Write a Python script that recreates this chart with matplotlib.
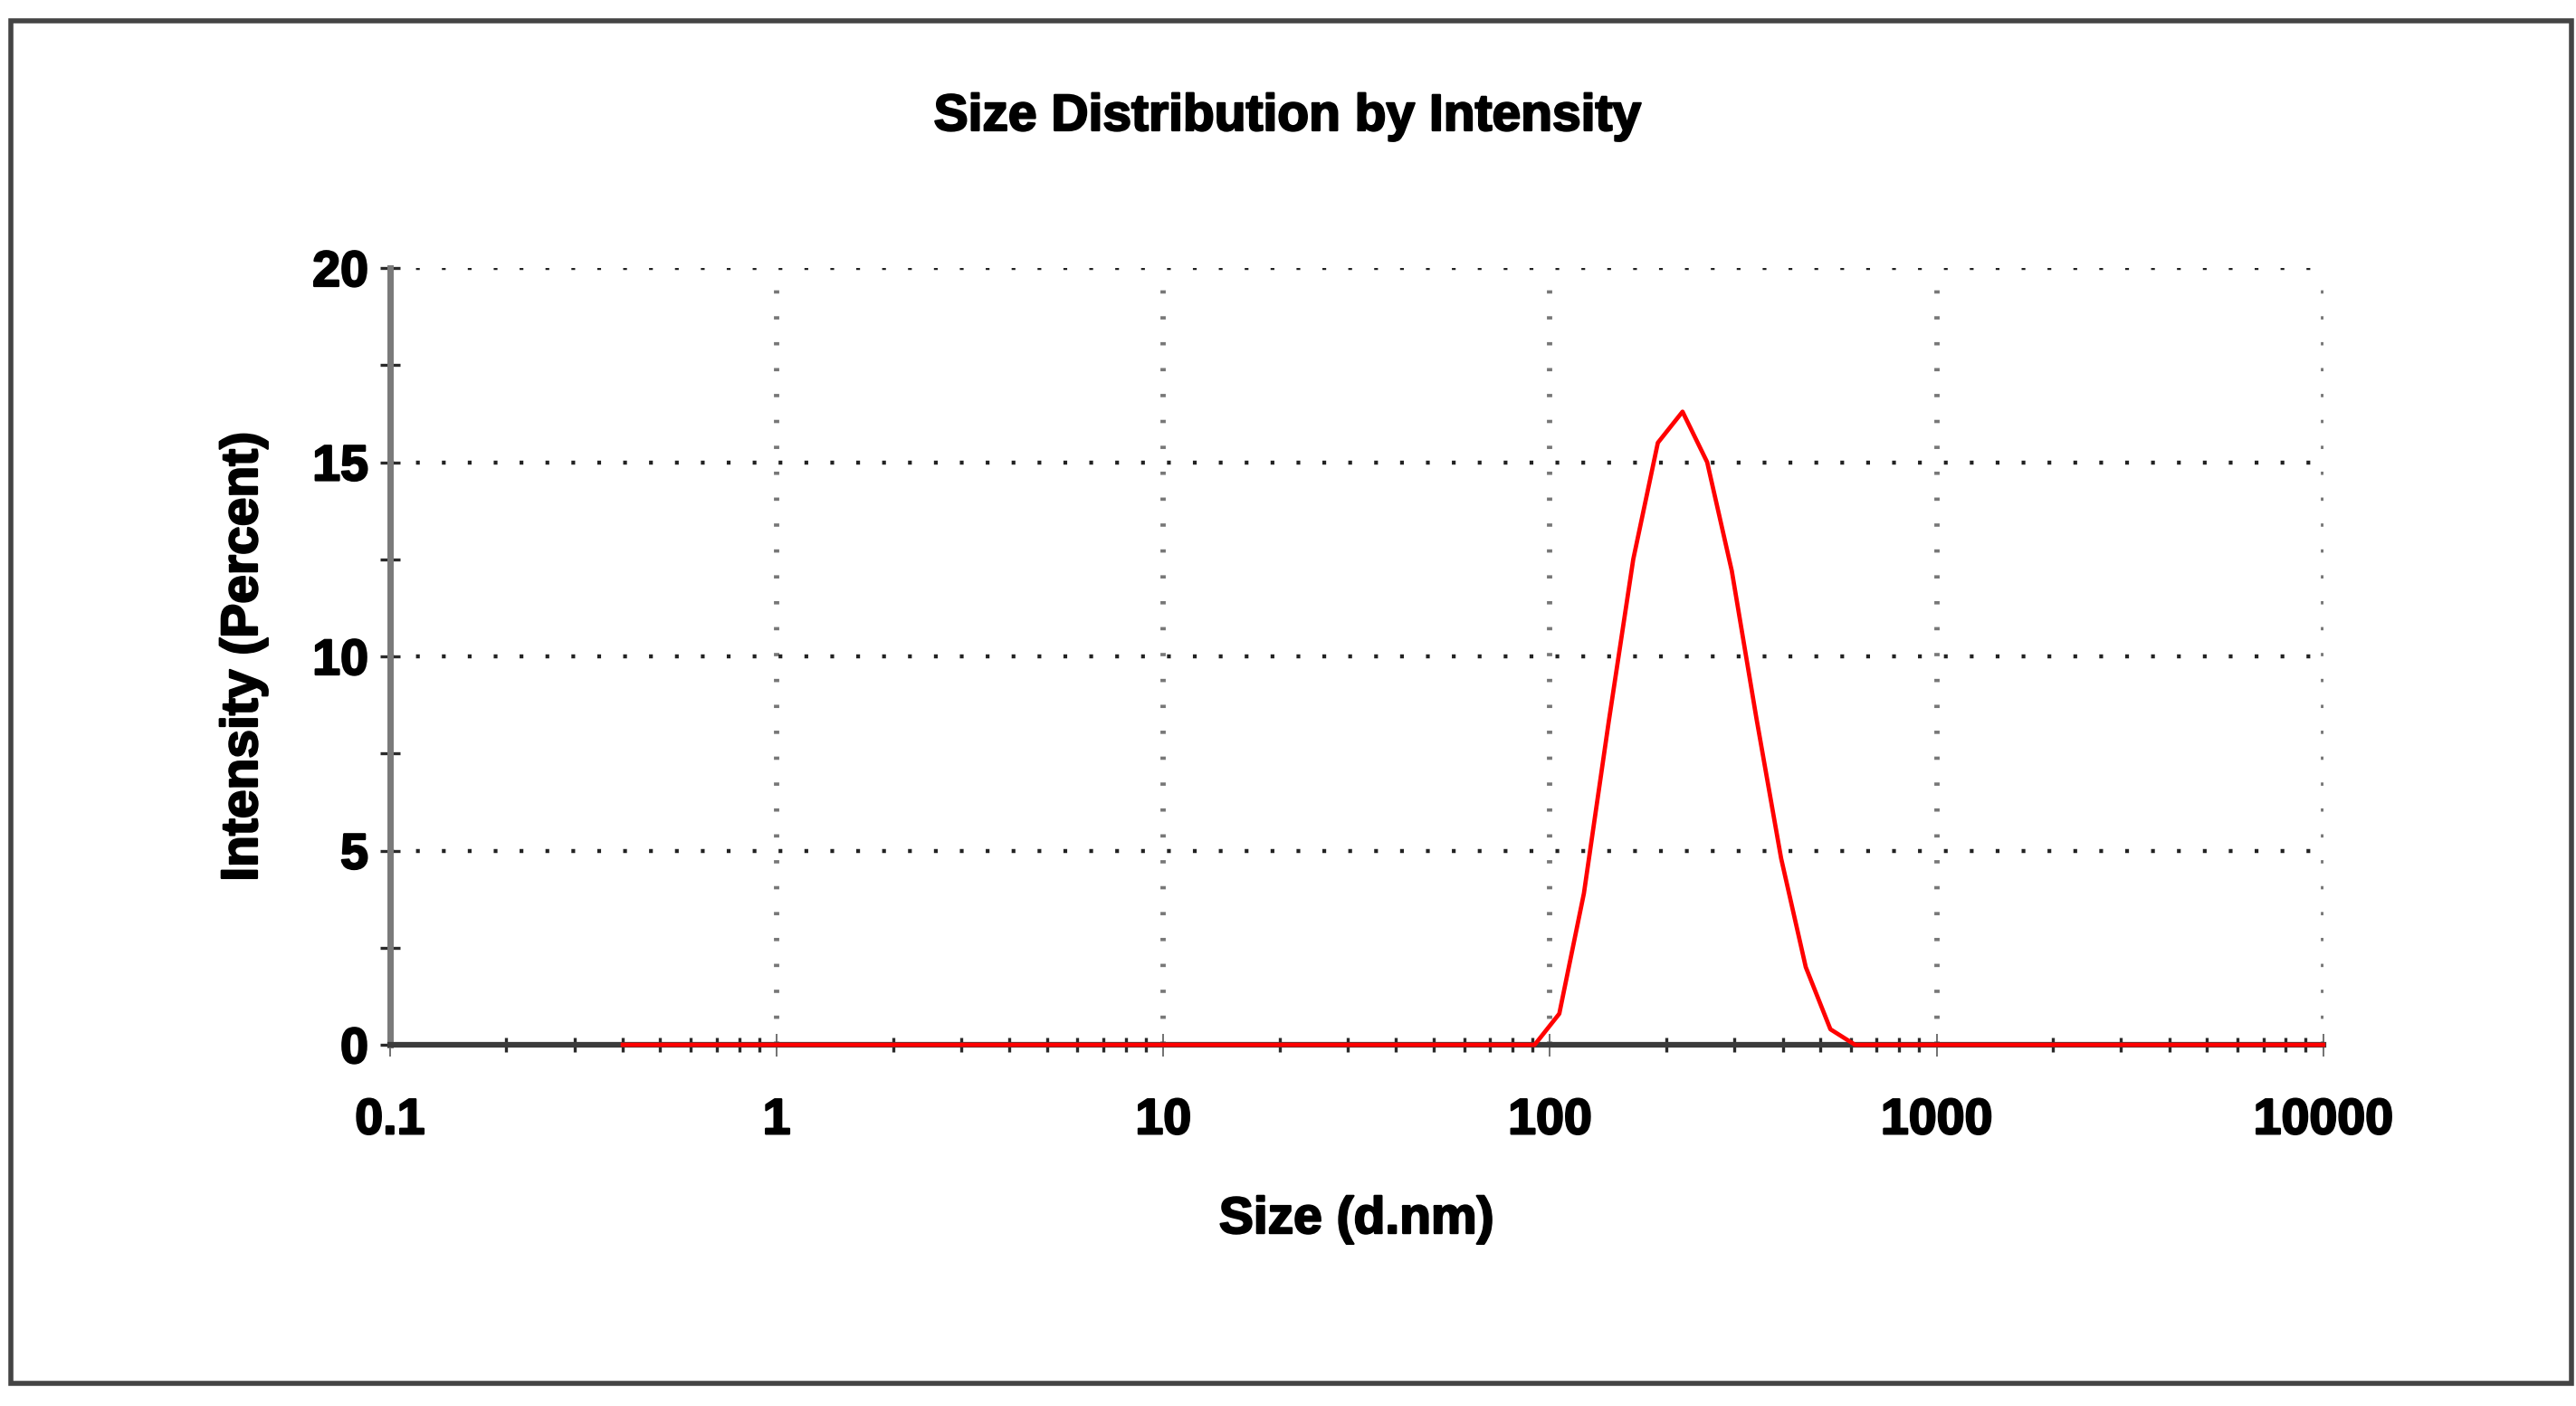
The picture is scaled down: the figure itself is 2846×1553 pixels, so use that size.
import matplotlib
matplotlib.use('Agg')
import matplotlib.pyplot as plt
import matplotlib.patheffects as pe
from matplotlib.patches import Rectangle
from matplotlib.ticker import LogLocator, MultipleLocator, NullFormatter, FixedLocator

# size classes (d.nm) of the DLS report
sizes = [0.4, 0.4632, 0.5365, 0.6213, 0.7195, 0.8332, 0.9649, 1.117, 1.294, 1.499,
         1.736, 2.01, 2.328, 2.696, 3.122, 3.615, 4.187, 4.849, 5.615, 6.503,
         7.531, 8.721, 10.1, 11.7, 13.54, 15.69, 18.17, 21.04, 24.36, 28.21,
         32.67, 37.84, 43.82, 50.75, 58.77, 68.06, 78.82, 91.28, 105.7, 122.4,
         141.8, 164.2, 190.1, 220.2, 255.0, 295.3, 342.0, 396.1, 458.7, 531.2,
         615.1, 712.4, 825.0, 955.4, 1106, 1281, 1484, 1718, 1990, 2305,
         2669, 3091, 3580, 4145, 4801, 5560, 6439, 7456, 8635, 10000]
# intensity (percent)
intensity = [0, 0, 0, 0, 0, 0, 0, 0, 0, 0,
             0, 0, 0, 0, 0, 0, 0, 0, 0, 0,
             0, 0, 0, 0, 0, 0, 0, 0, 0, 0,
             0, 0, 0, 0, 0, 0, 0, 0, 0.8, 3.9,
             8.3, 12.5, 15.5, 16.3, 15.0, 12.2, 8.4, 4.8, 2.0, 0.4,
             0, 0, 0, 0, 0, 0, 0, 0, 0, 0,
             0, 0, 0, 0, 0, 0, 0, 0, 0, 0]

x_ticks = [0.1, 1, 10, 100, 1000, 10000]
x_tick_labels = ['0.1', '1', '10', '100', '1000', '10000']
y_ticks = [0, 5, 10, 15, 20]

plt.rcParams['font.family'] = ['Liberation Sans', 'DejaVu Sans']
plt.rcParams['font.weight'] = 'bold'
plt.rcParams['lines.scale_dashes'] = False

heavy = [pe.withStroke(linewidth=1.6, foreground='black')]  # old report font is heavier

fig = plt.figure(figsize=(28.46, 15.53), dpi=100)
ax = fig.add_axes([0.1514, 0.2569, 0.7505, 0.5525])

ax.plot(sizes, intensity, color='#ff0000', lw=3.4, zorder=5, clip_on=False)

ax.set_xscale('log')
ax.set_xlim(0.1, 10000)
ax.set_ylim(0, 20)

ax.xaxis.set_major_locator(FixedLocator(x_ticks))
ax.set_xticklabels(x_tick_labels)
ax.xaxis.set_minor_locator(LogLocator(base=10, subs=[2, 3, 4, 5, 6, 7, 8, 9], numticks=20))
ax.xaxis.set_minor_formatter(NullFormatter())
ax.set_yticks(y_ticks)
ax.yaxis.set_minor_locator(MultipleLocator(2.5))

# dotted grid, horizontal darker dots, vertical lighter dashes
ax.set_axisbelow(True)
ax.yaxis.grid(True, which='major', color='#222222', lw=3.2, linestyle=(0, (3.0, 17.6)))
ax.xaxis.grid(True, which='major', color='#777777', lw=4.2, linestyle=(0, (2.6, 18.0)))

for s in ['top', 'right']:
    ax.spines[s].set_visible(False)
ax.spines['left'].set_color('#7a7a7a')
ax.spines['left'].set_linewidth(5)
ax.spines['bottom'].set_color('#3c3c3c')
ax.spines['bottom'].set_linewidth(4.5)

ax.tick_params(axis='y', which='both', direction='inout', length=16.5, width=2.4,
               color='#2a2a2a', pad=9, labelsize=40)
ax.tick_params(axis='x', which='major', direction='inout', length=18, width=1.3,
               color='#666666', pad=33, labelsize=40)
ax.tick_params(axis='x', which='minor', direction='inout', length=11.5, width=2.4,
               color='#2a2a2a')
for lab in ax.get_xticklabels() + ax.get_yticklabels():
    lab.set_path_effects(heavy)

ax.set_xlabel('Size (d.nm)', fontsize=41, fontweight='bold', path_effects=heavy)
ax.xaxis.set_label_coords(0.5, -0.225)
ax.xaxis.label.set_va('center')
ax.set_ylabel('Intensity (Percent)', fontsize=41, fontweight='bold', path_effects=heavy)
ax.yaxis.set_label_coords(-0.0758, 0.5)
ax.yaxis.label.set_va('center')

fig.suptitle('Size Distribution by Intensity', x=0.5, y=1 - 129 / 1553, va='center',
             fontsize=41, fontweight='bold', path_effects=heavy)

# outer frame round the whole picture
fig.add_artist(Rectangle((0.0042, 0.0161), 0.9942, 0.969, transform=fig.transFigure,
                         fill=False, edgecolor='#444444', lw=4))

fig.savefig('out.png', dpi=100)
